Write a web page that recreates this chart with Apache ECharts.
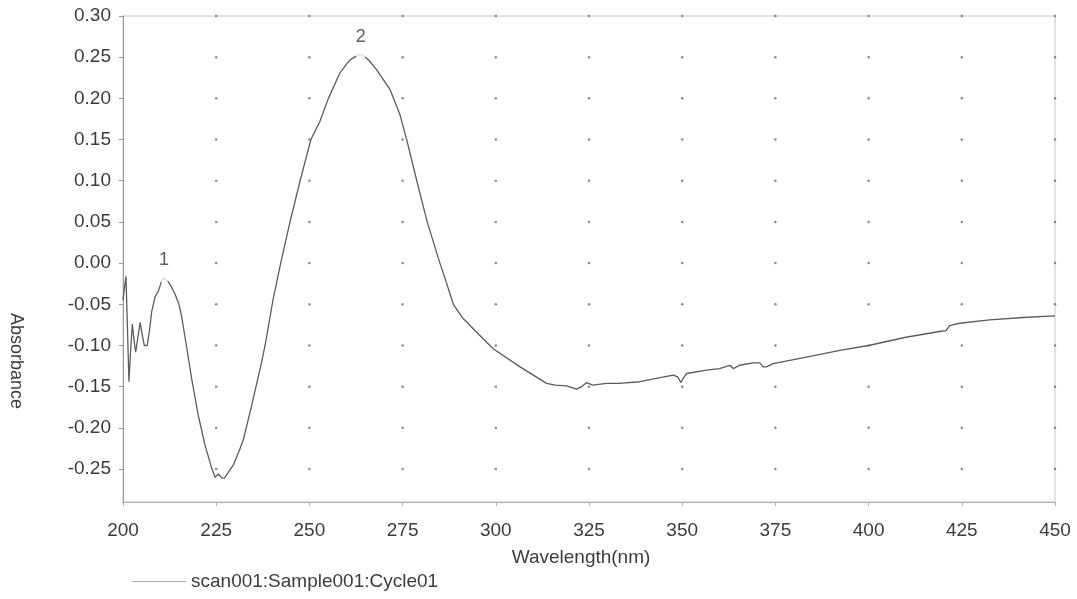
<!DOCTYPE html>
<html>
<head>
<meta charset="utf-8">
<script src="https://cdn.jsdelivr.net/npm/echarts@6/dist/echarts.min.js"></script>
<style>
  html, body { margin: 0; padding: 0; background: #fff; }
  #chart { width: 1077px; height: 599px; }
</style>
</head>
<body>
<div id="chart"></div>
<script>
// spectrum
const wavelength = [
  200.0, 200.4, 200.8, 201.2, 201.6, 202.0, 202.5, 203.0, 203.4, 204.0,
  204.6, 205.2, 205.7, 206.5, 207.1, 207.7, 208.6, 209.5, 210.4, 211.0,
  212.2, 213.0, 214.0, 215.0, 215.7, 217.0, 218.4, 220.2, 222.0, 223.8,
  224.7, 225.6, 226.5, 227.2, 227.8, 229.6, 231.4, 232.3, 234.5, 237.2,
  238.1, 240.3, 242.3, 244.8, 247.5, 250.4, 252.8, 255.1, 258.2, 260.4,
  261.3, 262.5, 263.6, 264.5, 266.0, 268.0, 271.6, 274.3, 276.1, 278.8,
  281.6, 285.0, 286.5, 288.6, 291.0, 294.0, 299.3, 306.5, 313.6,
  316.0, 319.0, 321.7, 323.0, 324.4, 326.0, 329.7, 333.0, 338.7, 343.0,
  347.6, 348.8, 349.6, 350.4, 351.2, 356.5, 360.0, 362.8, 363.7, 365.4,
  369.0, 370.8, 371.7, 372.6, 374.4, 383.3, 392.3, 400.0, 410.0, 419.0,
  420.8, 421.7, 424.4, 432.5, 441.4, 450.0
];
const absorbance = [
  -0.045, -0.030, -0.016, -0.080, -0.144, -0.110, -0.074, -0.095, -0.108, -0.090,
  -0.072, -0.088, -0.100, -0.100, -0.082, -0.059, -0.041, -0.034, -0.021, -0.018,
  -0.023, -0.029, -0.038, -0.050, -0.064, -0.100, -0.140, -0.185, -0.221, -0.249,
  -0.260, -0.256, -0.261, -0.261, -0.257, -0.245, -0.225, -0.214, -0.173, -0.120,
  -0.100, -0.043, 0.000, 0.050, 0.100, 0.150, 0.172, 0.200, 0.231, 0.244,
  0.248, 0.251, 0.253, 0.252, 0.246, 0.235, 0.211, 0.180, 0.150, 0.100,
  0.050, 0.000, -0.020, -0.050, -0.066, -0.080, -0.104, -0.126, -0.146,
  -0.148, -0.149, -0.153, -0.150, -0.145, -0.148, -0.146, -0.146, -0.144, -0.140,
  -0.136, -0.138, -0.145, -0.139, -0.134, -0.130, -0.128, -0.124, -0.128, -0.124,
  -0.121, -0.121, -0.126, -0.126, -0.122, -0.114, -0.106, -0.100, -0.090, -0.083,
  -0.082, -0.076, -0.073, -0.069, -0.066, -0.064
];

// picked peaks
const peakWl = [211.0, 263.8];
const peakAbs = [-0.018, 0.253];
const peakNames = ['1', '2'];

// axis ticks
const xTicks = [200, 225, 250, 275, 300, 325, 350, 375, 400, 425, 450];
const yTicks = [-0.25, -0.20, -0.15, -0.10, -0.05, 0.00, 0.05, 0.10, 0.15, 0.20, 0.25, 0.30];

const seriesName = 'scan001:Sample001:Cycle01';

let spectrum = wavelength.map((w, i) => [w, absorbance[i]]);
let peaks = peakWl.map((w, i) => ({ value: [w, peakAbs[i]], name: peakNames[i] }));
// dotted grid: one dot per tick crossing
let gridDots = [];
xTicks.slice(1).forEach(x => {
  yTicks.forEach(y => gridDots.push([x, y]));
});

const font = 'Liberation Sans, Arial, sans-serif';
const textColor = '#3c3c3c';

let myChart = echarts.init(document.getElementById('chart'));
let option = {
  animation: false,
  textStyle: { fontFamily: font },
  grid: {
    left: 123,
    right: 22,
    top: 16,
    bottom: 97,
    show: true,
    borderColor: '#c4c8cc',
    borderWidth: 1
  },
  legend: {
    data: [{ name: seriesName, icon: 'path://M0,0H100V1H0Z' }],
    left: 127,
    top: 567,
    itemWidth: 54,
    itemHeight: 1.5,
    itemGap: 8,
    textStyle: { fontSize: 19, color: textColor, fontFamily: font }
  },
  graphic: [{
    type: 'text',
    x: 16,
    y: 361,
    rotation: -Math.PI / 2,
    style: {
      text: 'Absorbance',
      fontSize: 18,
      fontFamily: font,
      fill: textColor,
      align: 'center',
      verticalAlign: 'middle'
    }
  }],
  xAxis: {
    type: 'value',
    min: 200,
    max: 450,
    interval: 25,
    name: 'Wavelength(nm)',
    nameLocation: 'middle',
    nameGap: 46,
    nameTextStyle: { fontSize: 19, color: textColor, padding: [0, 16, 0, 0] },
    axisLine: { show: true, onZero: false, lineStyle: { color: '#a9b0ba', width: 1 } },
    axisTick: { show: true, length: 4, lineStyle: { color: '#a9b0ba' } },
    axisLabel: { fontSize: 19, color: textColor, margin: 19 },
    splitLine: { show: false }
  },
  yAxis: {
    type: 'value',
    min: -0.29,
    max: 0.30,
    axisLine: { show: true, onZero: false, lineStyle: { color: '#9a9a9a', width: 1 } },
    axisTick: { show: true, length: 4, customValues: yTicks, lineStyle: { color: '#9a9a9a' } },
    axisLabel: {
      fontSize: 19,
      color: textColor,
      margin: 12,
      customValues: yTicks,
      formatter: v => v.toFixed(2)
    },
    splitLine: { show: false }
  },
  series: [
    {
      name: 'dots',
      type: 'scatter',
      data: gridDots,
      symbol: 'circle',
      symbolSize: 2.5,
      silent: true,
      itemStyle: { color: '#6e6e6e' },
      z: 1
    },
    {
      name: seriesName,
      type: 'line',
      data: spectrum,
      symbol: 'none',
      smooth: false,
      lineStyle: { color: '#5c5c5c', width: 1.3 },
      itemStyle: { color: '#5c5c5c' },
      z: 3
    },
    {
      name: 'peaks',
      type: 'scatter',
      data: peaks,
      symbol: 'emptyCircle',
      symbolSize: 10,
      silent: true,
      itemStyle: { color: 'rgba(255,255,255,0)', borderColor: '#999999', borderWidth: 1 },
      label: {
        show: true,
        position: 'top',
        distance: 3,
        formatter: p => p.name,
        fontSize: 18,
        color: '#333333',
        fontFamily: font
      },
      z: 4
    }
  ]
};
myChart.setOption(option);
window.onresize = function () {
  myChart.resize();
};
</script>
</body>
</html>
